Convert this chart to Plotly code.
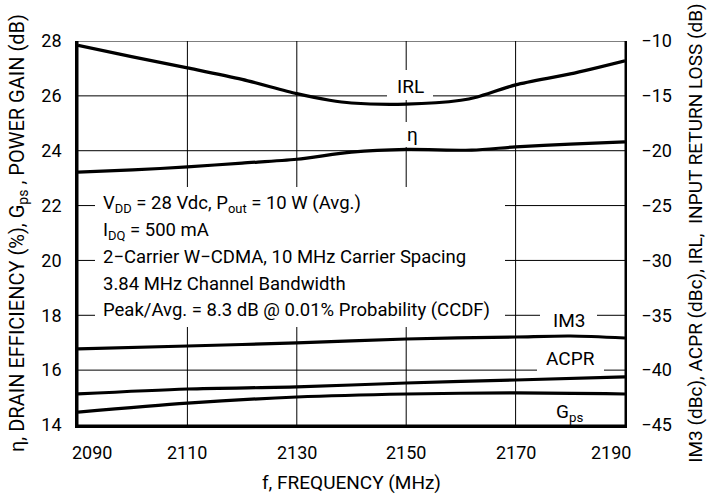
import plotly.graph_objects as go

FONT = "Roboto, Liberation Sans, sans-serif"

# ---- data ----
freq_irl = [2090, 2100, 2110, 2120, 2130, 2136, 2140, 2150, 2160, 2163, 2170, 2180, 2190]
irl = [-10.4, -11.45, -12.45, -13.5, -14.8, -15.4, -15.65, -15.75, -15.4, -15.1, -14.0, -13.0, -11.8]

freq_eta = [2090, 2100, 2110, 2120, 2130, 2140, 2150, 2162, 2170, 2180, 2190]
eta = [23.22, 23.30, 23.41, 23.55, 23.69, 23.95, 24.05, 24.02, 24.14, 24.24, 24.32]

freq_im3 = [2090, 2110, 2130, 2150, 2170, 2180, 2190]
im3 = [-38.07, -37.80, -37.52, -37.16, -36.98, -36.89, -37.07]

freq_acpr = [2090, 2110, 2130, 2150, 2170, 2190]
acpr = [-42.17, -41.72, -41.53, -41.17, -40.90, -40.62]

freq_gps = [2090, 2110, 2130, 2150, 2170, 2190]
gps = [14.47, 14.80, 15.02, 15.13, 15.17, 15.13]

x_ticks = [2090, 2110, 2130, 2150, 2170, 2190]
y_left_ticks = [14, 16, 18, 20, 22, 24, 26, 28]
y_right_ticks = [-45, -40, -35, -30, -25, -20, -15, -10]

X_RANGE = [2090, 2190]
YL_RANGE = [14, 28]
YR_RANGE = [-45, -10]

note_lines = [
    "V<sub>DD</sub> = 28 Vdc, P<sub>out</sub> = 10 W (Avg.)",
    "I<sub>DQ</sub> = 500 mA",
    "2\u2212Carrier W\u2212CDMA, 10 MHz Carrier Spacing",
    "3.84 MHz Channel Bandwidth",
    "Peak/Avg. = 8.3 dB @ 0.01% Probability (CCDF)",
]

# ---- layout geometry (pixels) ----
W, H = 712, 501
L, R, T, B = 78, 625, 41, 425

def px(xp):
    return (xp - L) / (R - L)

def py(yp):
    return (B - yp) / (B - T)

def dx(xp):
    return X_RANGE[0] + px(xp) * (X_RANGE[1] - X_RANGE[0])

def dy(yp):
    return YL_RANGE[0] + py(yp) * (YL_RANGE[1] - YL_RANGE[0])

fig = go.Figure()

# grid lines built from the tick arrays
gx, gy = [], []
for v in x_ticks:
    gx += [v, v, None]
    gy += [YL_RANGE[0], YL_RANGE[1], None]
for v in y_left_ticks:
    gx += [X_RANGE[0], X_RANGE[1], None]
    gy += [v, v, None]
fig.add_trace(go.Scatter(x=gx, y=gy, mode="lines", line=dict(color="black", width=1),
                         hoverinfo="skip", yaxis="y"))

# white masks behind the labels (cover grid, stay under the curves)
mx, my = [], []
for (x0, x1, y0, y1) in [(95, 505, 187, 327), (387, 433, 70, 100), (398, 426, 122, 147),
                         (540, 597, 305, 330), (537, 604, 345, 372)]:
    mx += [dx(x0), dx(x1), dx(x1), dx(x0), dx(x0), None]
    my += [dy(y0), dy(y0), dy(y1), dy(y1), dy(y0), None]
fig.add_trace(go.Scatter(x=mx, y=my, mode="lines", fill="toself", fillcolor="white",
                         line=dict(color="white", width=0), hoverinfo="skip", yaxis="y"))

line = dict(color="black", width=3.2, shape="spline", smoothing=0.8)
fig.add_trace(go.Scatter(x=freq_eta, y=eta, mode="lines", line=line, yaxis="y"))
fig.add_trace(go.Scatter(x=freq_gps, y=gps, mode="lines", line=line, yaxis="y"))
fig.add_trace(go.Scatter(x=freq_irl, y=irl, mode="lines", line=line, yaxis="y2"))
fig.add_trace(go.Scatter(x=freq_im3, y=im3, mode="lines", line=line, yaxis="y2"))
fig.add_trace(go.Scatter(x=freq_acpr, y=acpr, mode="lines", line=line, yaxis="y2"))

annotations = []
for v in x_ticks:
    shift = 14 if v == x_ticks[0] else (-14 if v == x_ticks[-1] else 0)
    annotations.append(dict(x=v, xref="x", y=0, yref="paper", text=str(v), showarrow=False,
                            xanchor="center", yanchor="middle", yshift=-27, xshift=shift,
                            font=dict(family=FONT, size=18, color="black")))

line_y = [204, 231, 257, 284, 310]
for text, yp in zip(note_lines, line_y):
    annotations.append(dict(xref="paper", yref="paper", x=px(101), y=py(yp),
                            xanchor="left", yanchor="middle", align="left", showarrow=False,
                            text=text, font=dict(family=FONT, size=18.5, color="black")))

for text, xp, yp in [("IRL", 410, 87), ("\u03b7", 412, 134), ("IM3", 569, 320),
                     ("ACPR", 570, 358), ("G<sub>ps</sub>", 569, 412)]:
    annotations.append(dict(xref="paper", yref="paper", x=px(xp), y=py(yp), text=text,
                            showarrow=False, xanchor="center", yanchor="middle",
                            font=dict(family=FONT, size=19, color="black")))

fig.update_layout(
    width=W, height=H,
    margin=dict(l=L, r=W - R, t=T, b=H - B, pad=0, autoexpand=False),
    paper_bgcolor="white", plot_bgcolor="white",
    showlegend=False, hovermode=False,
    font=dict(family=FONT, size=19, color="black"),
    xaxis=dict(range=X_RANGE, tickvals=x_ticks, showticklabels=False,
               showgrid=False, showline=True, linecolor="black", linewidth=2.6, ticks="",
               zeroline=False, automargin=False, mirror=False,
               title=dict(text="f, FREQUENCY (MHz)", standoff=49,
                          font=dict(family=FONT, size=19))),
    yaxis=dict(range=YL_RANGE, tickvals=y_left_ticks, showgrid=False,
               showline=True, linecolor="black", linewidth=2.6, ticks="",
               ticklabelstandoff=10, zeroline=False, automargin=False,
               tickfont=dict(family=FONT, size=18),
               title=dict(text="\u03b7, DRAIN EFFICIENCY (%), G<sub>ps</sub> , POWER GAIN (dB)",
                          standoff=12, font=dict(family=FONT, size=20))),
    yaxis2=dict(range=YR_RANGE, tickvals=y_right_ticks, overlaying="y", side="right",
                showgrid=False, showline=True, linecolor="black", linewidth=1.5, ticks="",
                ticklabelstandoff=11, zeroline=False, automargin=False,
                tickfont=dict(family=FONT, size=18),
                title=dict(text="IM3 (dBc), ACPR (dBc), IRL,  INPUT RETURN LOSS (dB)",
                           standoff=18, font=dict(family=FONT, size=19))),
    annotations=annotations,
)

fig.write_html("out.html", config={"displayModeBar": False},
               post_script="document.body.style.margin='0';")
